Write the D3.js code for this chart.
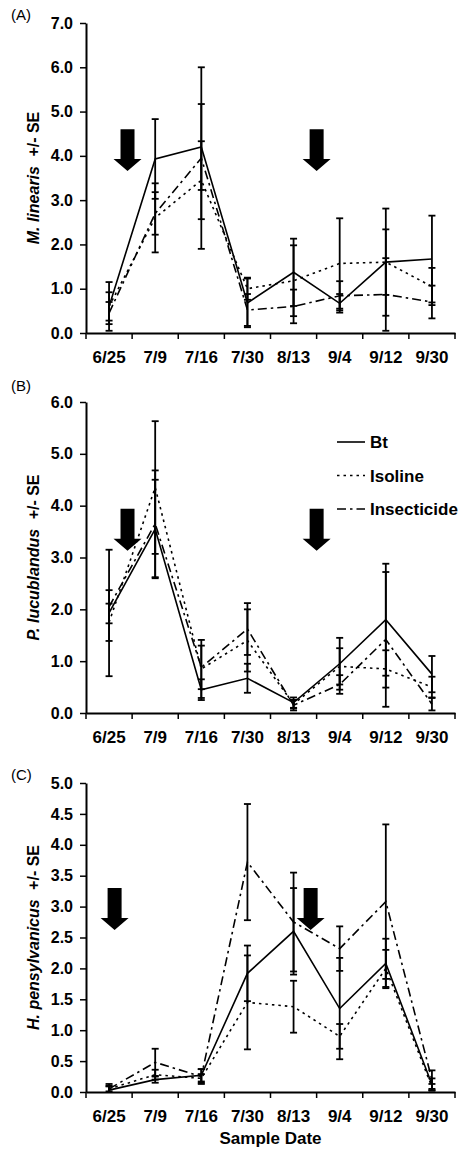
<!DOCTYPE html>
<html>
<head>
<meta charset="utf-8">
<script src="https://cdn.jsdelivr.net/npm/d3@7"></script>
<style>
  body { margin: 0; background: #fff; }
  svg { display: block; font-family: "Liberation Sans", Arial, sans-serif; }
</style>
</head>
<body>
<svg id="chart"></svg>
<script>
const dates = ["6/25", "7/9", "7/16", "7/30", "8/13", "9/4", "9/12", "9/30"];
const seriesNames = ["Bt", "Isoline", "Insecticide"];

// (A) M. linearis
const aBt = [0.6, 3.93, 4.2, 0.68, 1.37, 0.67, 1.6, 1.67];
const aBtSE = [0.55, 0.9, 0.97, 0.55, 0.76, 0.21, 1.21, 0.98];
const aIso = [0.6, 2.6, 3.45, 1.0, 1.18, 1.57, 1.6, 1.05];
const aIsoSE = [0.32, 0.78, 0.88, 0.25, 0.8, 1.02, 0.74, 0.42];
const aIns = [0.45, 2.7, 3.95, 0.52, 0.6, 0.84, 0.87, 0.7];
const aInsSE = [0.25, 0.48, 2.05, 0.36, 0.38, 0.33, 0.82, 0.37];

// (B) P. lucublandus
const bBt = [1.93, 3.55, 0.45, 0.67, 0.2, 0.95, 1.8, 0.75];
const bBtSE = [1.22, 0.95, 0.2, 0.28, 0.1, 0.5, 1.08, 0.35];
const bIso = [1.75, 4.35, 0.85, 1.4, 0.17, 0.9, 0.85, 0.5];
const bIsoSE = [0.36, 1.28, 0.56, 0.6, 0.08, 0.35, 0.36, 0.2];
const bIns = [2.05, 3.65, 0.88, 1.62, 0.15, 0.55, 1.42, 0.17];
const bInsSE = [0.32, 1.03, 0.42, 0.5, 0.1, 0.18, 1.3, 0.12];

// (C) H. pensylvanicus
const cBt = [0.03, 0.2, 0.27, 1.92, 2.6, 1.35, 2.08, 0.12];
const cBtSE = [0.1, 0.05, 0.1, 0.45, 0.7, 0.82, 0.4, 0.1];
const cIso = [0.05, 0.28, 0.22, 1.45, 1.38, 0.9, 2.0, 0.08];
const cIsoSE = [0.05, 0.08, 0.07, 0.76, 0.42, 0.2, 0.3, 0.05];
const cIns = [0.05, 0.48, 0.25, 3.72, 2.75, 2.32, 3.08, 0.2];
const cInsSE = [0.04, 0.22, 0.12, 0.94, 0.8, 0.36, 1.25, 0.15];

// arrow marks: position in category units
const aArrows = [0.4, 4.5];
const bArrows = [0.4, 4.5];
const cArrows = [0.12, 4.37];

const W = 464, H = 1150;
const svg = d3.select("#chart").attr("width", W).attr("height", H);

const dash = { Bt: null, Isoline: "2.5,4", Insecticide: "9,4,2.5,4" };

const panels = [
  { tag: "(A)", sp: "M. linearis", top: 23, bottom: 333, max: 7, step: 1,
    means: [aBt, aIso, aIns], ses: [aBtSE, aIsoSE, aInsSE],
    arrows: aArrows, arrowTop: 4.6, arrowTip: 3.66, labelY: 20 },
  { tag: "(B)", sp: "P. lucublandus", top: 402, bottom: 713, max: 6, step: 1,
    means: [bBt, bIso, bIns], ses: [bBtSE, bIsoSE, bInsSE],
    arrows: bArrows, arrowTop: 3.94, arrowTip: 3.13, labelY: 391, legend: true },
  { tag: "(C)", sp: "H. pensylvanicus", top: 783, bottom: 1092, max: 5, step: 0.5,
    means: [cBt, cIso, cIns], ses: [cBtSE, cIsoSE, cInsSE],
    arrows: cArrows, arrowTop: 3.3, arrowTip: 2.62, labelY: 780, xTitle: true }
];

const left = 86, right = 455;
const x = d3.scaleBand().domain(dates).range([left, right]).padding(0);
const cx = d => x(d) + x.bandwidth() / 2;

panels.forEach(p => {
  const y = d3.scaleLinear().domain([0, p.max]).range([p.bottom, p.top]);
  const g = svg.append("g");

  // y axis
  const ticks = d3.range(0, p.max + p.step / 2, p.step);
  const ya = g.append("g")
    .attr("transform", `translate(${left},0)`)
    .call(d3.axisLeft(y).tickValues(ticks).tickFormat(d3.format(".1f")).tickSize(6).tickSizeOuter(0).tickPadding(7));
  ya.select(".domain").attr("stroke-width", 2);
  ya.selectAll(".tick line").attr("stroke-width", 1.5);
  ya.selectAll("text").attr("font-size", 16).attr("font-weight", "bold").attr("fill", "#000");

  // x axis, labels centred in bands, ticks on band edges
  const xa = g.append("g")
    .attr("transform", `translate(0,${p.bottom})`)
    .call(d3.axisBottom(x).tickSize(0).tickPadding(18));
  xa.select(".domain").attr("stroke-width", 2);
  xa.selectAll("text").attr("font-size", 17).attr("font-weight", "bold").attr("fill", "#000");
  g.append("g").selectAll("line")
    .data(d3.range(dates.length + 1))
    .join("line")
    .attr("x1", i => left + i * x.step()).attr("x2", i => left + i * x.step())
    .attr("y1", p.bottom).attr("y2", p.bottom + 6)
    .attr("stroke", "#000").attr("stroke-width", 1.5);

  // error bars
  seriesNames.forEach((s, k) => {
    const m = p.means[k], se = p.ses[k];
    const eb = g.append("g").attr("stroke", "#000").attr("stroke-width", 1.8);
    dates.forEach((d, i) => {
      const hi = m[i] + se[i], lo = Math.max(0, m[i] - se[i]);
      eb.append("line").attr("x1", cx(d)).attr("x2", cx(d)).attr("y1", y(hi)).attr("y2", y(lo));
      eb.append("line").attr("x1", cx(d) - 3.5).attr("x2", cx(d) + 3.5).attr("y1", y(hi)).attr("y2", y(hi));
      if (m[i] - se[i] > 0)
        eb.append("line").attr("x1", cx(d) - 3.5).attr("x2", cx(d) + 3.5).attr("y1", y(lo)).attr("y2", y(lo));
    });
  });

  // series lines
  const line = d3.line().x((v, i) => cx(dates[i])).y(v => y(v));
  seriesNames.forEach((s, k) => {
    g.append("path")
      .datum(p.means[k])
      .attr("d", line)
      .attr("fill", "none")
      .attr("stroke", "#000")
      .attr("stroke-width", 1.6)
      .attr("stroke-dasharray", dash[s]);
  });

  // arrows
  p.arrows.forEach(a => {
    const ax = cx(dates[0]) + a * x.step();
    const t = y(p.arrowTop), b = y(p.arrowTip);
    const hh = 12, sw = 7, hw = 14;
    g.append("path")
      .attr("d", `M${ax - sw},${t}H${ax + sw}V${b - hh}H${ax + hw}L${ax},${b}L${ax - hw},${b - hh}H${ax - sw}Z`)
      .attr("fill", "#000");
  });

  // panel tag
  svg.append("text").attr("x", 11).attr("y", p.labelY)
    .attr("font-size", 15).attr("fill", "#000").text(p.tag);

  // y title
  const yt = svg.append("text")
    .attr("transform", `translate(39,${(p.top + p.bottom) / 2}) rotate(-90)`)
    .attr("text-anchor", "middle")
    .attr("font-size", 16).attr("font-weight", "bold").attr("fill", "#000");
  yt.append("tspan").attr("font-style", "italic").text(p.sp);
  yt.append("tspan").attr("dx", 5).text(" +/- SE");

  if (p.legend) {
    const lg = svg.append("g");
    seriesNames.forEach((s, k) => {
      const ly = 442 + k * 33.5;
      lg.append("line").attr("x1", 337).attr("x2", 365).attr("y1", ly).attr("y2", ly)
        .attr("stroke", "#000").attr("stroke-width", 1.6).attr("stroke-dasharray", dash[s]);
      lg.append("text").attr("x", 370).attr("y", ly + 6)
        .attr("font-size", 17).attr("font-weight", "bold").attr("fill", "#000").text(s);
    });
  }

  if (p.xTitle) {
    svg.append("text").attr("x", (left + right) / 2).attr("y", 1144)
      .attr("text-anchor", "middle").attr("font-size", 17).attr("font-weight", "bold")
      .attr("fill", "#000").text("Sample Date");
  }
});
</script>
</body>
</html>
